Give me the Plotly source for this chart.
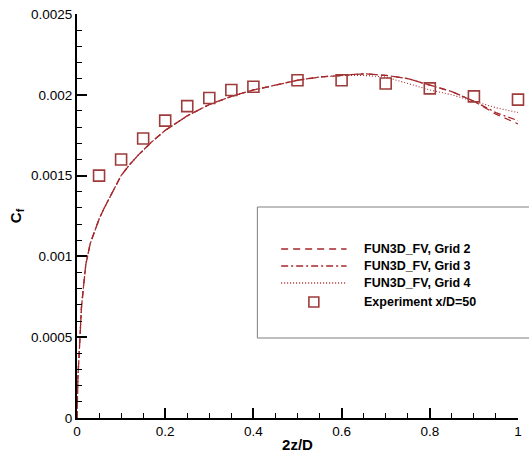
import plotly.graph_objects as go

# ---- data ----
x_curve = [0, 0.002, 0.005, 0.01, 0.015, 0.02, 0.03, 0.04, 0.05, 0.06, 0.08, 0.1,
           0.12, 0.14, 0.17, 0.2, 0.25, 0.3, 0.35, 0.4, 0.45, 0.5, 0.55, 0.6,
           0.65, 0.7, 0.75, 0.8, 0.85, 0.9, 0.95, 1.0]
cf_grid3 = [0, 0.00025, 0.0004, 0.00068, 0.00082, 0.00095, 0.00108, 0.00116, 0.00123,
            0.00129, 0.0014, 0.0015, 0.00157, 0.00163, 0.00171, 0.00178, 0.00187,
            0.00194, 0.00199, 0.00203, 0.00206, 0.00209, 0.00211, 0.00212, 0.00213,
            0.00212, 0.0021, 0.00206, 0.00202, 0.00196, 0.00189, 0.00184]
cf_grid2 = [0, 0.00025, 0.0004, 0.00068, 0.00082, 0.00095, 0.00108, 0.00116, 0.00123,
            0.00129, 0.0014, 0.0015, 0.00157, 0.00163, 0.00171, 0.00178, 0.00187,
            0.00194, 0.00199, 0.00203, 0.00206, 0.00209, 0.00211, 0.00212, 0.00213,
            0.00212, 0.0021, 0.00206, 0.00202, 0.00196, 0.00188, 0.00182]
cf_grid4 = [0, 0.00025, 0.0004, 0.00068, 0.00082, 0.00095, 0.00108, 0.00116, 0.00123,
            0.00129, 0.0014, 0.0015, 0.00157, 0.00163, 0.00171, 0.00178, 0.00187,
            0.00194, 0.00199, 0.00203, 0.00206, 0.00209, 0.00211, 0.00212, 0.00212,
            0.00211, 0.00207, 0.00203, 0.002, 0.00196, 0.00192, 0.00189]
x_exp = [0.05, 0.1, 0.15, 0.2, 0.25, 0.3, 0.35, 0.4, 0.5, 0.6, 0.7, 0.8, 0.9, 1.0]
cf_exp = [0.0015, 0.0016, 0.00173, 0.00184, 0.00193, 0.00198, 0.00203, 0.00205,
          0.00209, 0.00209, 0.00207, 0.00204, 0.00199, 0.00197]

x_ticks = [0, 0.2, 0.4, 0.6, 0.8, 1]
x_ticklabels = ["0", "0.2", "0.4", "0.6", "0.8", "1"]
y_ticks = [0, 0.0005, 0.001, 0.0015, 0.002, 0.0025]
y_ticklabels = ["0", "0.0005", "0.001", "0.0015", "0.002", "0.0025"]

series_names = ["FUN3D_FV, Grid 2", "FUN3D_FV, Grid 3", "FUN3D_FV, Grid 4", "Experiment x/D=50"]

LINE_C = "#A5282D"
MARK_C = "#9E3B3B"
FONT = "Liberation Sans, Arial, sans-serif"

fig = go.Figure()
fig.add_trace(go.Scatter(x=x_curve, y=cf_grid2, mode="lines", name=series_names[0],
                         line=dict(color=LINE_C, width=1.3, dash="7px,5px"), showlegend=False))
fig.add_trace(go.Scatter(x=x_curve, y=cf_grid3, mode="lines", name=series_names[1],
                         line=dict(color=LINE_C, width=1.3, dash="7px,3px,2px,3px"), showlegend=False))
fig.add_trace(go.Scatter(x=x_curve, y=cf_grid4, mode="lines", name=series_names[2],
                         line=dict(color=LINE_C, width=1.1, dash="1px,2px"), showlegend=False))
fig.add_trace(go.Scatter(x=x_exp, y=cf_exp, mode="markers", name=series_names[3],
                         marker=dict(symbol="square-open", size=11, color=MARK_C,
                                     line=dict(width=1.6, color=MARK_C)),
                         showlegend=False, cliponaxis=False))

# ---- manual legend (box, samples, text) in paper coordinates ----
L, R, T, B = 77, 522, 14, 418
def px(xp):
    return (xp - L) / (R - L)
def py(yp):
    return (B - yp) / (B - T)

shapes = [dict(type="rect", xref="paper", yref="paper",
               x0=px(259), x1=px(540), y0=py(338), y1=py(207),
               line=dict(color="#7f7f7f", width=1), fillcolor="white", layer="below")]
rows = [249, 266, 283, 302]
dashes = ["7px,5px", "7px,3px,2px,3px", "1px,2px"]
for i in range(3):
    shapes.append(dict(type="line", xref="paper", yref="paper",
                       x0=px(283), x1=px(349), y0=py(rows[i]), y1=py(rows[i]),
                       line=dict(color=LINE_C, width=1.3, dash=dashes[i])))
shapes.append(dict(type="rect", xref="paper", yref="paper",
                   x0=px(311), x1=px(321), y0=py(rows[3] + 5), y1=py(rows[3] - 5),
                   line=dict(color=MARK_C, width=1.6)))
annotations = []
for i, nm in enumerate(series_names):
    annotations.append(dict(xref="paper", yref="paper", x=px(365), y=py(rows[i]),
                            text="<b>" + nm + "</b>", showarrow=False,
                            xanchor="left", yanchor="middle",
                            font=dict(family=FONT, size=12.5, color="black")))

fig.update_layout(
    width=529, height=459,
    margin=dict(l=L, r=529 - R, t=T, b=459 - B),
    paper_bgcolor="white", plot_bgcolor="white",
    font=dict(family=FONT, size=13, color="black"),
    shapes=shapes, annotations=annotations,
    xaxis=dict(range=[0, 1], tickvals=x_ticks, ticktext=x_ticklabels,
               showgrid=False, zeroline=False, showline=True, linecolor="black", linewidth=2,
               ticks="inside", ticklen=10, tickwidth=2, tickcolor="black",
               minor=dict(ticks="inside", ticklen=5, tickwidth=1, dtick=0.05, tickcolor="black"),
               title=dict(text="<b>2z/D</b>", font=dict(size=15), standoff=1),
               tickfont=dict(size=13.5)),
    yaxis=dict(range=[0, 0.0025], tickvals=y_ticks, ticktext=y_ticklabels,
               showgrid=False, zeroline=False, showline=True, linecolor="black", linewidth=2,
               ticks="inside", ticklen=10, tickwidth=2, tickcolor="black",
               minor=dict(ticks="inside", ticklen=5, tickwidth=1, dtick=0.0001, tickcolor="black"),
               title=dict(text="<b>C<sub>f</sub></b>", font=dict(size=15), standoff=6),
               tickfont=dict(size=13.5)),
)

fig.write_html("out.html")
